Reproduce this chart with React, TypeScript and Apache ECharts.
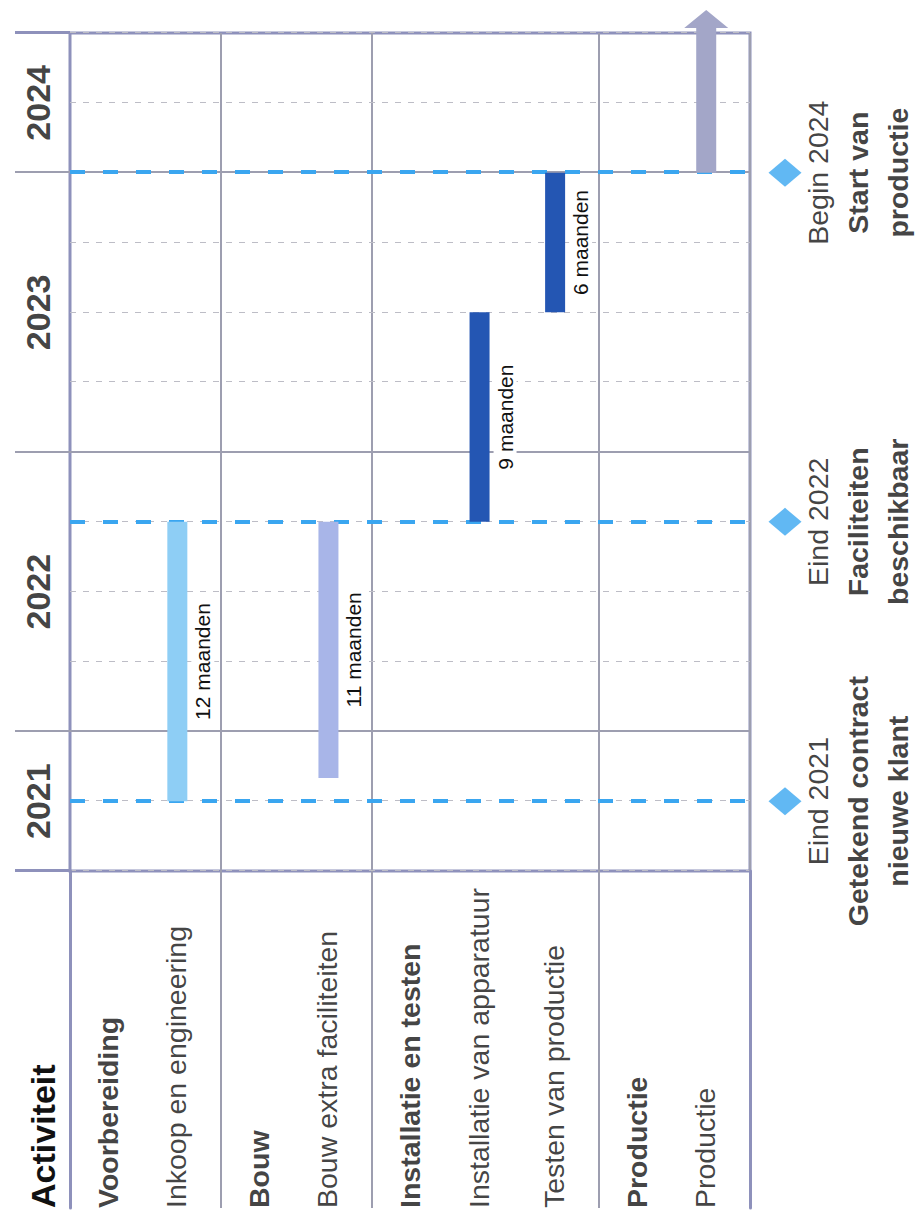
import React, { useEffect, useRef } from 'react';
import * as echarts from 'echarts';

// ---------- data ----------
const rowLabels = [
  'Voorbereiding',
  'Inkoop en engineering',
  'Bouw',
  'Bouw extra faciliteiten',
  'Installatie en testen',
  'Installatie van apparatuur',
  'Testen van productie',
  'Productie',
  'Productie',
];
const rowIsGroup = [true, false, true, false, true, false, false, true, false];
const groupStarts = [0, 2, 4, 7];

// time axis in months counted from July 2021
const axisMin = 0;
const axisMax = 36;
const yearLabels = ['2021', '2022', '2023', '2024'];
const yearCenters = [3, 12, 24, 33];
const yearBoundaries = [6, 18, 30];

const taskNames = [
  'Inkoop en engineering',
  'Bouw extra faciliteiten',
  'Installatie van apparatuur',
  'Testen van productie',
  'Productie',
];
const taskRows = [1, 3, 5, 6, 8];
const taskStart = [3, 4, 15, 24, 30];
const taskEnd = [15, 15, 24, 30, 36];
const taskOngoing = [false, false, false, false, true];

const milestoneMonths = [3, 15, 30];
const milestoneDates = ['Eind 2021', 'Eind 2022', 'Begin 2024'];
const milestoneTitleLine1 = ['Getekend contract', 'Faciliteiten', 'Start van'];
const milestoneTitleLine2 = ['nieuwe klant', 'beschikbaar', 'productie'];

// ---------- styles ----------
const W = 1222;
const H = 919;
const FONT = '"Liberation Sans", Arial, Helvetica, sans-serif';
const TEXT = '#111111';
const BORDER = '#8E91BB';
const THIN = '#9D9EB0';
const DASH = '#BDBDC6';
const BLUE = '#3AA6F0';
const taskColors: Record<string, string> = {
  'Inkoop en engineering': '#8ECEF5',
  'Bouw extra faciliteiten': '#A8B5E8',
  'Installatie van apparatuur': '#2456B3',
  'Testen van productie': '#2456B3',
  Productie: '#A3A6C8',
};
const PLOT_LEFT = 351;
const PLOT_RIGHT = 33;
const LABEL_LEFT = 14;
const HEADER_TOP = 15;
const ROWS_TOP = 70;
const ROWS_BOTTOM = 169;
const BAR_H = 20;
const BAR_SHIFT = -6;
const ITEM_SHIFT = -7;
const ROW_FONT = 28.5;
const HEAD_FONT = 34;
const BAR_FONT = 21;

const sepInterval = (i: number) => i > 0 && groupStarts.includes(i);

function buildOption(): any {
  const hiddenValueAxis = (gridIndex: number, min: number, max: number) => ({
    type: 'value',
    gridIndex,
    min,
    max,
    show: false,
  });

  return {
    animation: false,
    backgroundColor: '#ffffff',
    textStyle: { fontFamily: FONT, color: TEXT },
    grid: [
      { left: PLOT_LEFT, right: PLOT_RIGHT, top: HEADER_TOP, height: ROWS_TOP - HEADER_TOP },
      {
        left: PLOT_LEFT,
        right: PLOT_RIGHT,
        top: ROWS_TOP,
        bottom: ROWS_BOTTOM,
        show: true,
        borderColor: BORDER,
        borderWidth: 3,
        backgroundColor: 'transparent',
      },
      { left: LABEL_LEFT, width: PLOT_LEFT - LABEL_LEFT, top: ROWS_TOP, bottom: ROWS_BOTTOM },
      { left: PLOT_LEFT, right: PLOT_RIGHT, top: 760, height: 50 },
    ],
    xAxis: [
      hiddenValueAxis(0, axisMin, axisMax),
      {
        type: 'value',
        gridIndex: 1,
        min: axisMin,
        max: axisMax,
        interval: 3,
        axisLine: { show: false },
        axisTick: { show: false },
        axisLabel: { show: false },
        splitLine: { show: true, lineStyle: { color: DASH, width: 1.2, type: [6, 7] } },
      },
      {
        type: 'value',
        gridIndex: 2,
        min: 0,
        max: 1,
        position: 'top',
        axisLine: { show: true, lineStyle: { color: BORDER, width: 3 } },
        axisTick: { show: false },
        axisLabel: { show: false },
        splitLine: { show: false },
      },
      {
        type: 'value',
        gridIndex: 2,
        min: 0,
        max: 1,
        position: 'bottom',
        axisLine: { show: true, lineStyle: { color: BORDER, width: 3 } },
        axisTick: { show: false },
        axisLabel: { show: false },
        splitLine: { show: false },
      },
      hiddenValueAxis(3, axisMin, axisMax),
    ],
    yAxis: [
      {
        type: 'category',
        gridIndex: 0,
        data: ['Activiteit'],
        axisLine: { show: false },
        axisTick: { show: false },
        splitLine: { show: false },
        axisLabel: {
          align: 'left',
          margin: PLOT_LEFT - LABEL_LEFT,
          fontFamily: FONT,
          fontSize: HEAD_FONT,
          fontWeight: 'bold',
          color: TEXT,
          padding: [0, 0, 22, 0],
        },
      },
      {
        type: 'category',
        gridIndex: 1,
        data: rowLabels,
        inverse: true,
        axisLine: { show: false },
        axisTick: { show: false },
        axisLabel: { show: false },
        splitLine: { show: true, interval: sepInterval, lineStyle: { color: THIN, width: 2 } },
      },
      {
        type: 'category',
        gridIndex: 2,
        data: rowLabels,
        inverse: true,
        axisLine: { show: false },
        axisTick: { show: false },
        axisLabel: { show: false },
        splitLine: { show: true, interval: sepInterval, lineStyle: { color: THIN, width: 2 } },
      },
      { type: 'category', gridIndex: 3, data: ['mijlpaal'], show: false },
    ],
    series: [
      // year labels + year boundaries in the header strip
      {
        type: 'scatter',
        xAxisIndex: 0,
        yAxisIndex: 0,
        symbolSize: 0,
        silent: true,
        data: yearCenters.map((m) => [m, 0]),
        label: {
          show: true,
          position: 'inside',
          offset: [0, -5],
          formatter: (p: any) => yearLabels[p.dataIndex],
          fontFamily: FONT,
          fontSize: HEAD_FONT,
          fontWeight: 'bold',
          color: TEXT,
        },
        markLine: {
          symbol: 'none',
          silent: true,
          label: { show: false },
          data: [
            ...[axisMin, axisMax].map((v) => ({ xAxis: v, lineStyle: { color: BORDER, width: 3, type: 'solid' } })),
            ...yearBoundaries.map((v) => ({ xAxis: v, lineStyle: { color: THIN, width: 2, type: 'solid' } })),
          ],
        },
      },
      // row labels
      {
        type: 'scatter',
        xAxisIndex: 2,
        yAxisIndex: 2,
        symbolSize: 0,
        silent: true,
        data: rowLabels.map((name, i) => ({
          value: [0, i],
          name,
          label: {
            fontWeight: rowIsGroup[i] ? 'bold' : 'normal',
            offset: [0, rowIsGroup[i] ? 0 : ITEM_SHIFT],
          },
        })),
        label: {
          show: true,
          position: 'right',
          distance: 0,
          formatter: (p: any) => rowLabels[p.dataIndex],
          fontFamily: FONT,
          fontSize: ROW_FONT,
          color: TEXT,
        },
      },
      // year boundaries in the plot
      {
        type: 'scatter',
        xAxisIndex: 1,
        yAxisIndex: 1,
        data: [],
        silent: true,
        markLine: {
          symbol: 'none',
          silent: true,
          z: 1,
          label: { show: false },
          lineStyle: { color: THIN, width: 2, type: 'solid' },
          data: yearBoundaries.map((v) => ({ xAxis: v })),
        },
      },
      // milestone dashed lines
      {
        type: 'scatter',
        xAxisIndex: 1,
        yAxisIndex: 1,
        data: [],
        silent: true,
        markLine: {
          symbol: 'none',
          silent: true,
          z: 1,
          label: { show: false },
          lineStyle: { color: BLUE, width: 4, type: [15, 18] },
          data: milestoneMonths.map((v) => ({ xAxis: v })),
        },
      },
      // gantt bars
      {
        type: 'custom',
        xAxisIndex: 1,
        yAxisIndex: 1,
        clip: false,
        z: 5,
        silent: true,
        encode: { x: [1, 2], y: 0 },
        data: taskNames.map((n, i) => [taskRows[i], taskStart[i], taskEnd[i]]),
        renderItem: (params: any, api: any) => {
          const i = params.dataIndex;
          const row = api.value(0);
          const s = api.value(1);
          const e = api.value(2);
          const p0 = api.coord([s, row]);
          const p1 = api.coord([e, row]);
          const cy = p0[1] + BAR_SHIFT;
          const hw = BAR_H / 2;
          const color = taskColors[taskNames[i]];
          if (taskOngoing[i]) {
            const xb = p1[0] + 5;
            const xt = p1[0] + 23;
            const headW = 22;
            return {
              type: 'polygon',
              shape: {
                points: [
                  [p0[0], cy - hw],
                  [xb, cy - hw],
                  [xb, cy - headW],
                  [xt, cy],
                  [xb, cy + headW],
                  [xb, cy + hw],
                  [p0[0], cy + hw],
                ],
              },
              style: { fill: color },
            };
          }
          return {
            type: 'group',
            children: [
              {
                type: 'rect',
                shape: { x: p0[0], y: cy - hw, width: p1[0] - p0[0], height: BAR_H },
                style: { fill: color },
              },
              {
                type: 'text',
                x: (p0[0] + p1[0]) / 2,
                y: cy + hw + 4,
                style: {
                  text: `${e - s} maanden`,
                  fill: TEXT,
                  fontFamily: FONT,
                  fontSize: BAR_FONT,
                  align: 'center',
                  verticalAlign: 'top',
                  backgroundColor: '#ffffff',
                  padding: [1, 4],
                },
              },
            ],
          };
        },
      },
      // milestone diamonds + labels
      {
        type: 'scatter',
        xAxisIndex: 4,
        yAxisIndex: 3,
        symbol: 'diamond',
        symbolSize: [28, 33],
        silent: true,
        itemStyle: { color: BLUE },
        data: milestoneMonths.map((m) => [m, 0]),
        label: {
          show: true,
          position: 'bottom',
          distance: -4,
          align: 'center',
          formatter: (p: any) => {
            const i = p.dataIndex;
            return `{r|${milestoneDates[i]}}\n{b|${milestoneTitleLine1[i]}}\n{b|${milestoneTitleLine2[i]}}`;
          },
          rich: {
            r: { fontFamily: FONT, fontSize: ROW_FONT, lineHeight: 40, color: TEXT, align: 'center' },
            b: { fontFamily: FONT, fontSize: ROW_FONT, lineHeight: 40, color: TEXT, fontWeight: 'bold', align: 'center' },
          },
        },
      },
    ],
  };
}

export default function App() {
  const ref = useRef<HTMLDivElement>(null);
  useEffect(() => {
    if (!ref.current) return;
    const chart = echarts.init(ref.current, undefined, { renderer: 'svg', width: W, height: H });
    chart.setOption(buildOption());
    return () => chart.dispose();
  }, []);
  return (
    <div
      style={{
        position: 'absolute',
        left: 0,
        top: 0,
        width: H,
        height: W,
        overflow: 'hidden',
        background: '#ffffff',
      }}
    >
      <div
        ref={ref}
        style={{
          position: 'absolute',
          left: 0,
          top: 0,
          width: W,
          height: H,
          transformOrigin: '0 0',
          transform: `translate(0px, ${W}px) rotate(-90deg)`,
        }}
      />
    </div>
  );
}
